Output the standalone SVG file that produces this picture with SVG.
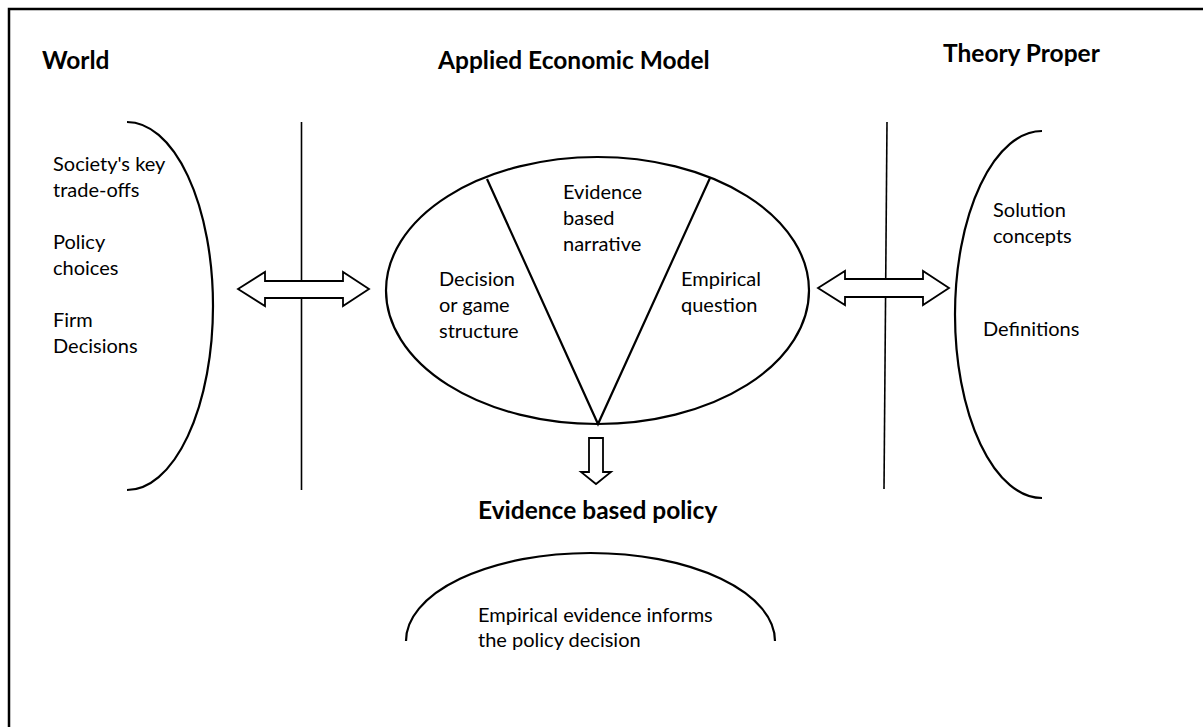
<svg xmlns="http://www.w3.org/2000/svg" width="1203" height="727" viewBox="0 0 1203 727">
<style>
  .t { font-family: Lato, "Open Sans", "Liberation Sans", sans-serif; font-size: 20px; fill: #000; }
  .h { font-family: Lato, "Open Sans", "Liberation Sans", sans-serif; font-size: 24.5px; font-weight: bold; fill: #000; }
  .ln { fill: none; stroke: #000; stroke-width: 2.2; }
  .thin { fill: none; stroke: #000; stroke-width: 1.6; }
  .arr { fill: #fff; stroke: #000; stroke-width: 1.8; stroke-linejoin: miter; }
</style>
<rect x="0" y="0" width="1203" height="727" fill="#fff"/>
<rect id="frame" x="9" y="9" width="1200" height="730" fill="none" stroke="#000" stroke-width="2.5"/>

<g id="world">
  <text class="h" x="42" y="69">World</text>
  <path class="ln" d="M127,122 A86,184 0 0 1 127,490"/>
  <text class="t" x="53" y="171">Society's key</text>
  <text class="t" x="53" y="197">trade-offs</text>
  <text class="t" x="53" y="249">Policy</text>
  <text class="t" x="53" y="275">choices</text>
  <text class="t" x="53" y="327">Firm</text>
  <text class="t" x="53" y="353">Decisions</text>
</g>

<g id="model">
  <text class="h" x="438" y="69">Applied Economic Model</text>
  <ellipse class="ln" cx="597.5" cy="290.5" rx="211.5" ry="133.5"/>
  <path class="ln" d="M487,179 L598,424 L710,178"/>
  <text class="t" x="563" y="199">Evidence</text>
  <text class="t" x="563" y="225">based</text>
  <text class="t" x="563" y="251">narrative</text>
  <text class="t" x="439" y="286">Decision</text>
  <text class="t" x="439" y="312">or game</text>
  <text class="t" x="439" y="338">structure</text>
  <text class="t" x="681" y="286">Empirical</text>
  <text class="t" x="681" y="312">question</text>
</g>

<g id="theory">
  <text class="h" x="943" y="62">Theory Proper</text>
  <path class="ln" d="M1042,131 A87,183.5 0 0 0 1042,498"/>
  <text class="t" x="993" y="217">Solution</text>
  <text class="t" x="993" y="243">concepts</text>
  <text class="t" x="983" y="336">Definitions</text>
</g>

<g id="policy">
  <text class="h" x="478" y="519">Evidence based policy</text>
  <path class="ln" d="M406,641 A184.5,88 0 0 1 775,641"/>
  <text class="t" x="478" y="622">Empirical evidence informs</text>
  <text class="t" x="478" y="647">the policy decision</text>
</g>

<g id="connectors">
  <line class="thin" x1="301.5" y1="122" x2="301.5" y2="490"/>
  <line class="thin" x1="887" y1="122" x2="884" y2="489"/>
  <path class="arr" d="M238,289 L265,272 L265,281 L343,281 L343,272 L369,289 L343,306 L343,298 L265,298 L265,306 Z"/>
  <path class="arr" d="M818,288 L845,271 L845,279 L923,279 L923,271 L949,288 L923,305 L923,297 L845,297 L845,305 Z"/>
  <path class="arr" d="M589,438 L603,438 L603,472 L611,472 L596,484 L581,472 L589,472 Z"/>
</g>
</svg>
